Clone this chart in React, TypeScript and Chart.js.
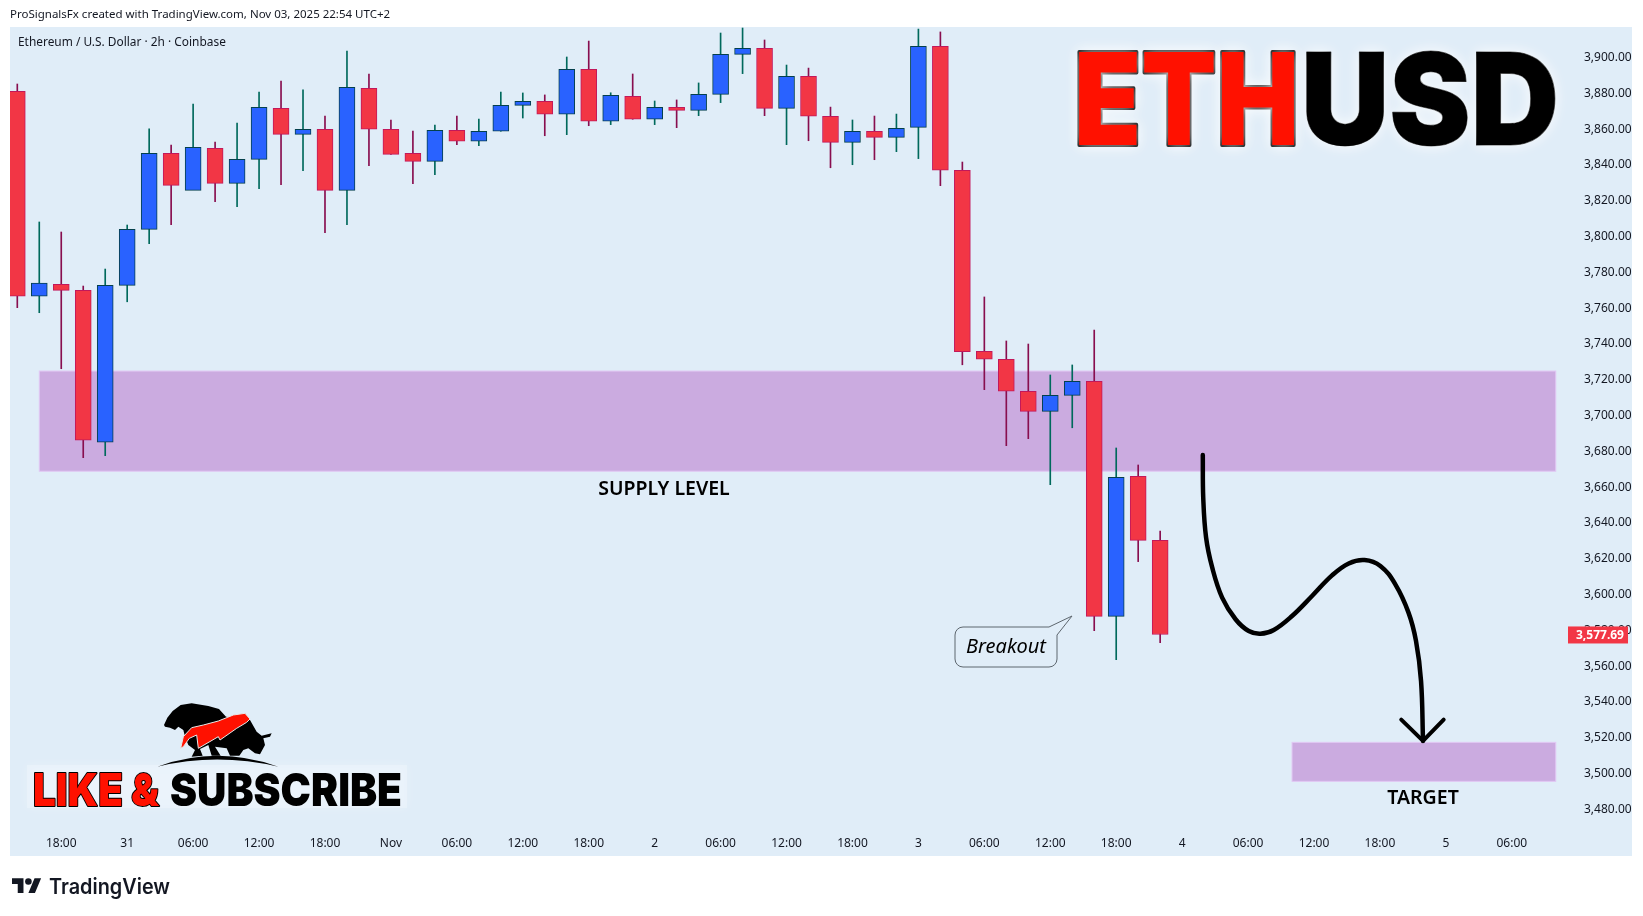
import { useEffect, useRef } from 'react'
import { Chart, registerables } from 'chart.js'

Chart.register(...registerables)

const opens = [3881.2, 3766.7, 3773.4, 3770.0, 3685.1, 3772.8, 3804.1, 3846.6, 3825.9, 3849.4, 3829.8, 3843.2, 3871.7, 3857.2, 3860.0, 3825.9, 3882.9, 3860.0, 3846.6, 3842.1, 3859.4, 3853.3, 3858.9, 3873.4, 3875.6, 3868.4, 3893.5, 3864.5, 3878.4, 3865.6, 3872.3, 3870.6, 3879.5, 3901.9, 3905.3, 3871.7, 3889.6, 3867.3, 3852.7, 3858.9, 3855.5, 3861.1, 3906.4, 3837.1, 3735.9, 3731.5, 3713.6, 3702.4, 3711.3, 3719.2, 3587.8, 3666.1, 3630.3]
const closes = [3766.7, 3774.0, 3770.0, 3686.2, 3772.8, 3804.1, 3846.6, 3828.7, 3849.9, 3829.8, 3843.2, 3872.3, 3857.2, 3860.0, 3825.9, 3883.5, 3860.0, 3846.0, 3842.1, 3859.4, 3853.3, 3858.9, 3873.4, 3875.6, 3868.4, 3893.5, 3864.5, 3879.0, 3865.6, 3872.3, 3870.6, 3879.5, 3901.9, 3905.3, 3871.7, 3889.6, 3867.3, 3852.7, 3858.9, 3855.5, 3860.5, 3906.4, 3837.1, 3735.7, 3731.5, 3713.6, 3702.4, 3711.3, 3719.2, 3587.8, 3665.5, 3630.3, 3577.69]
const highs = [3885.3, 3808.2, 3802.6, 3772.4, 3781.9, 3806.5, 3860.2, 3851.2, 3874.1, 3852.9, 3863.5, 3880.8, 3887.0, 3882.0, 3867.4, 3903.7, 3890.9, 3865.2, 3859.0, 3862.4, 3867.4, 3865.7, 3880.8, 3880.3, 3879.2, 3900.4, 3909.3, 3880.4, 3890.9, 3875.8, 3876.4, 3885.9, 3913.8, 3916.6, 3909.9, 3895.9, 3894.2, 3872.4, 3865.2, 3867.4, 3868.5, 3916.0, 3914.4, 3841.7, 3766.3, 3741.7, 3740.0, 3722.7, 3728.3, 3747.8, 3681.9, 3672.4, 3635.5]
const lows = [3760.3, 3757.5, 3726.2, 3676.5, 3677.6, 3763.6, 3796.1, 3806.7, 3826.2, 3819.5, 3816.7, 3826.8, 3829.0, 3836.9, 3802.2, 3806.7, 3839.6, 3846.0, 3829.6, 3834.6, 3851.4, 3850.8, 3858.9, 3866.3, 3856.4, 3857.0, 3862.0, 3862.6, 3865.6, 3862.6, 3860.9, 3867.6, 3874.9, 3891.1, 3867.6, 3851.4, 3853.6, 3838.5, 3840.2, 3843.0, 3847.5, 3843.6, 3828.5, 3728.4, 3714.5, 3683.2, 3687.1, 3661.4, 3693.2, 3579.8, 3563.6, 3618.4, 3573.1]

const priceTicks = [3480, 3500, 3520, 3540, 3560, 3580, 3600, 3620, 3640, 3660, 3680, 3700, 3720, 3740, 3760, 3780, 3800, 3820, 3840, 3860, 3880, 3900]
const timeTickIndex = [2, 5, 8, 11, 14, 17, 20, 23, 26, 29, 32, 35, 38, 41, 44, 47, 50, 53, 56, 59, 62, 65, 68]
const timeTickLabels = ['18:00', '31', '06:00', '12:00', '18:00', 'Nov', '06:00', '12:00', '18:00', '2', '06:00', '12:00', '18:00', '3', '06:00', '12:00', '18:00', '4', '06:00', '12:00', '18:00', '5', '06:00']

// projected path, bar index / price
const pathIndex = [53.94, 53.96, 54.09, 54.37, 54.82, 55.43, 56.03, 56.56, 57.17, 58.0, 58.91, 59.82, 60.58, 61.3, 62.02, 62.7, 63.3, 63.64, 63.87, 63.96]
const pathPrice = [3678.0, 3654.1, 3631.8, 3615.0, 3598.3, 3586.2, 3579.6, 3578.1, 3580.2, 3588.0, 3599.2, 3610.7, 3617.4, 3619.3, 3616.0, 3605.7, 3589.9, 3574.1, 3551.7, 3518.2]
const arrowIndex = [62.97, 63.96, 64.9]
const arrowPrice = [3530.1, 3518.2, 3530.1]

const supplyZone = { from: 1, to: 70, low: 3668.9, high: 3724.9 }
const targetZone = { from: 58, to: 70, low: 3495.6, high: 3517.4 }

const lastPrice = closes[closes.length - 1]

const UP = '#2962ff'
const UP_BORDER = '#04404c'
const UP_WICK = '#00695c'
const DOWN = '#f23645'
const DOWN_BORDER = '#c2185b'
const DOWN_WICK = '#880e4f'
const PANEL = '#e0edf8'
const TEXT = '#131722'
const FONT = '"Noto Sans", sans-serif'

function fitText(ctx: CanvasRenderingContext2D, text: string, left: number, right: number, baseline: number) {
  const w = ctx.measureText(text).width
  ctx.save()
  ctx.translate(left, baseline)
  ctx.scale((right - left) / w, 1)
  ctx.fillText(text, 0, 0)
  ctx.restore()
}

function outlinedText(ctx: CanvasRenderingContext2D, text: string, left: number, right: number, baseline: number, fill: string, lineWidth: number) {
  const w = ctx.measureText(text).width
  ctx.save()
  ctx.translate(left, baseline)
  ctx.scale((right - left) / w, 1)
  ctx.lineJoin = 'round'
  ctx.lineWidth = lineWidth
  ctx.strokeStyle = '#000'
  ctx.strokeText(text, 0, 0)
  ctx.fillStyle = fill
  ctx.fillText(text, 0, 0)
  ctx.restore()
}

function poly(ctx: CanvasRenderingContext2D, pts: number[][]) {
  ctx.beginPath()
  pts.forEach(([x, y], i) => (i ? ctx.lineTo(x, y) : ctx.moveTo(x, y)))
  ctx.closePath()
}

function drawLogo(ctx: CanvasRenderingContext2D) {
  ctx.save()
  ctx.translate(150, 695)
  ctx.scale(1 / 3, 1 / 3)
  ctx.fillStyle = '#000'
  poly(ctx, [[42, 90], [52, 68], [68, 48], [92, 30], [125, 25], [175, 33], [207, 42], [228, 65], [300, 75], [320, 110], [335, 122], [365, 115], [360, 125], [340, 130], [345, 150], [330, 178], [315, 175], [295, 160], [280, 165], [268, 182], [240, 182], [230, 160], [195, 155], [212, 182], [185, 182], [175, 150], [150, 162], [158, 182], [125, 185], [135, 165], [115, 150], [105, 125], [100, 105], [85, 95], [75, 105], [60, 98], [45, 95]])
  ctx.fill()
  ctx.fillStyle = '#ff1100'
  ctx.strokeStyle = '#e8e8e8'
  ctx.lineWidth = 3
  poly(ctx, [[92, 160], [100, 125], [125, 98], [160, 90], [205, 78], [250, 60], [285, 55], [300, 72], [290, 82], [260, 100], [210, 135], [205, 125], [145, 160], [140, 120], [118, 130], [100, 155]])
  ctx.fill()
  ctx.stroke()
  ctx.fillStyle = '#000'
  ctx.beginPath()
  ctx.moveTo(22, 215)
  ctx.quadraticCurveTo(200, 150, 385, 215)
  ctx.quadraticCurveTo(200, 172, 22, 215)
  ctx.fill()
  ctx.restore()
}

const panelPlugin = {
  id: 'panel',
  beforeDraw(chart: any) {
    const { ctx } = chart
    ctx.save()
    ctx.fillStyle = '#fff'
    ctx.fillRect(0, 0, chart.width, chart.height)
    ctx.fillStyle = PANEL
    ctx.fillRect(10, 27, 1622, 829)
    ctx.restore()
  },
  beforeDatasetsDraw(chart: any) {
    const { ctx, scales } = chart
    ctx.save()
    for (const z of [supplyZone, targetZone]) {
      const x0 = scales.x.getPixelForValue(z.from)
      const x1 = scales.x.getPixelForValue(z.to)
      const y0 = scales.y.getPixelForValue(z.high)
      const y1 = scales.y.getPixelForValue(z.low)
      ctx.fillStyle = '#cbabe0'
      ctx.strokeStyle = '#e1c8f4'
      ctx.lineWidth = 1
      ctx.fillRect(x0, y0, x1 - x0, y1 - y0)
      ctx.strokeRect(x0, y0, x1 - x0, y1 - y0)
    }
    ctx.restore()
  },
  afterDraw(chart: any) {
    const { ctx, scales } = chart
    ctx.save()

    // header and pane title
    ctx.textBaseline = 'middle'
    ctx.fillStyle = TEXT
    ctx.font = `11.5px ${FONT}`
    ctx.fillText('ProSignalsFx created with TradingView.com, Nov 03, 2025 22:54 UTC+2', 10, 15)
    ctx.font = `11.9px ${FONT}`
    ctx.fillText('Ethereum / U.S. Dollar · 2h · Coinbase', 18, 43)

    // zone labels
    ctx.textAlign = 'center'
    ctx.fillStyle = '#000'
    ctx.font = `600 19.5px ${FONT}`
    ctx.fillText('SUPPLY LEVEL', 664, 489)
    ctx.fillText('TARGET', 1423, 798)

    // last price tag
    const py = scales.y.getPixelForValue(lastPrice)
    ctx.fillStyle = DOWN
    ctx.fillRect(1568, py - 8, 60, 17)
    ctx.fillStyle = '#fff'
    ctx.textAlign = 'left'
    ctx.font = `bold 12px ${FONT}`
    ctx.fillText(lastPrice.toFixed(2).replace('3577', '3,577'), 1576, py + 1)

    // callout
    ctx.fillStyle = PANEL
    ctx.strokeStyle = '#5d666e'
    ctx.lineWidth = 1
    ctx.beginPath()
    ctx.moveTo(963, 627)
    ctx.lineTo(1049, 627)
    ctx.lineTo(1072, 616)
    ctx.lineTo(1057, 635)
    ctx.lineTo(1057, 659)
    ctx.arcTo(1057, 667, 1049, 667, 8)
    ctx.lineTo(963, 667)
    ctx.arcTo(955, 667, 955, 659, 8)
    ctx.lineTo(955, 635)
    ctx.arcTo(955, 627, 963, 627, 8)
    ctx.closePath()
    ctx.fill()
    ctx.stroke()
    ctx.fillStyle = '#000'
    ctx.textAlign = 'center'
    ctx.font = `italic 20px ${FONT}`
    ctx.fillText('Breakout', 1006, 647)

    // ETHUSD
    ctx.textAlign = 'left'
    ctx.textBaseline = 'alphabetic'
    ctx.font = '900 128px Inter, sans-serif'
    ctx.shadowColor = 'rgba(255,255,255,0.9)'
    ctx.shadowBlur = 14
    outlinedText(ctx, 'ETH', 1074, 1299, 145, '#ff1100', 4)
    outlinedText(ctx, 'USD', 1301, 1559, 145, '#000', 1)
    ctx.shadowBlur = 0

    // like and subscribe
    ctx.save()
    ctx.shadowColor = 'rgba(255,255,255,0.5)'
    ctx.shadowBlur = 10
    ctx.fillStyle = 'rgba(240,247,252,0.45)'
    ctx.fillRect(27, 765, 380, 43)
    ctx.restore()
    drawLogo(ctx)
    ctx.font = '900 46px Inter, sans-serif'
    outlinedText(ctx, 'LIKE &', 33, 159, 806, '#ff1100', 2)
    ctx.fillStyle = '#000'
    fitText(ctx, 'SUBSCRIBE', 170, 402, 806)

    // TradingView mark
    ctx.save()
    ctx.translate(12, 875)
    ctx.scale(0.82, 0.82)
    ctx.fillStyle = TEXT
    ctx.fill(new Path2D('M14 22H7V11H0V4h14v18zM28 22h-8l7.5-18h8L28 22z'))
    ctx.beginPath()
    ctx.arc(20, 8, 4, 0, Math.PI * 2)
    ctx.fill()
    ctx.restore()
    ctx.fillStyle = TEXT
    ctx.font = '600 21px Inter, sans-serif'
    fitText(ctx, 'TradingView', 49, 170, 894)

    ctx.restore()
  },
}

export default function App() {
  const canvasRef = useRef<HTMLCanvasElement>(null)

  useEffect(() => {
    if (!canvasRef.current) return

    const isUp = opens.map((o, i) => closes[i] >= o)
    const chart = new Chart(canvasRef.current, {
      type: 'bar',
      data: {
        datasets: [
          {
            type: 'line',
            data: pathIndex.map((x, i) => ({ x, y: pathPrice[i] })),
            borderColor: '#000',
            borderWidth: 4.5,
            borderCapStyle: 'round',
            tension: 0.4,
            pointRadius: 0,
            order: 0,
          },
          {
            type: 'line',
            data: arrowIndex.map((x, i) => ({ x, y: arrowPrice[i] })),
            borderColor: '#000',
            borderWidth: 4,
            borderCapStyle: 'round',
            borderJoinStyle: 'round',
            tension: 0,
            pointRadius: 0,
            order: 0,
          },
          {
            data: opens.map((o, i) => ({ x: i, y: [o, closes[i]] })),
            backgroundColor: isUp.map((u) => (u ? UP : DOWN)),
            borderColor: isUp.map((u) => (u ? UP_BORDER : DOWN_BORDER)),
            borderWidth: 1,
            borderSkipped: false,
            barThickness: 16,
            grouped: false,
            order: 1,
          },
          {
            data: lows.map((l, i) => ({ x: i, y: [l, highs[i]] })),
            backgroundColor: isUp.map((u) => (u ? UP_WICK : DOWN_WICK)),
            barThickness: 1,
            grouped: false,
            order: 2,
          },
        ],
      } as any,
      plugins: [panelPlugin],
      options: {
        animation: false,
        responsive: false,
        devicePixelRatio: 1,
        layout: { padding: { left: 10, top: 27, right: 11, bottom: 60 } },
        plugins: { legend: { display: false }, tooltip: { enabled: false } },
        scales: {
          x: {
            type: 'linear',
            offset: false,
            min: -0.332,
            max: 70.42,
            grid: { display: false },
            border: { display: false },
            afterFit: (s: any) => { s.height = 28 },
            afterBuildTicks: (s: any) => { s.ticks = timeTickIndex.map((value) => ({ value })) },
            ticks: {
              autoSkip: false,
              maxRotation: 0,
              padding: 0,
              color: TEXT,
              font: { family: FONT, size: 12 },
              callback: (v: any) => timeTickLabels[timeTickIndex.indexOf(v)],
            },
          },
          y: {
            position: 'right',
            min: 3469.54,
            max: 3917.16,
            grid: { display: false },
            border: { display: false },
            afterFit: (s: any) => { s.width = 67 },
            afterBuildTicks: (s: any) => { s.ticks = priceTicks.map((value) => ({ value })) },
            ticks: {
              padding: 11,
              color: TEXT,
              font: { family: FONT, size: 12 },
              callback: (v: any) => `3,${String(v - 3000)}.00`,
            },
          },
        },
      } as any,
    })

    return () => chart.destroy()
  }, [])

  return (
    <div style={{ position: 'absolute', left: 0, top: 0, width: 1643, height: 916 }}>
      <canvas ref={canvasRef} width={1643} height={916} style={{ display: 'block' }} />
    </div>
  )
}
